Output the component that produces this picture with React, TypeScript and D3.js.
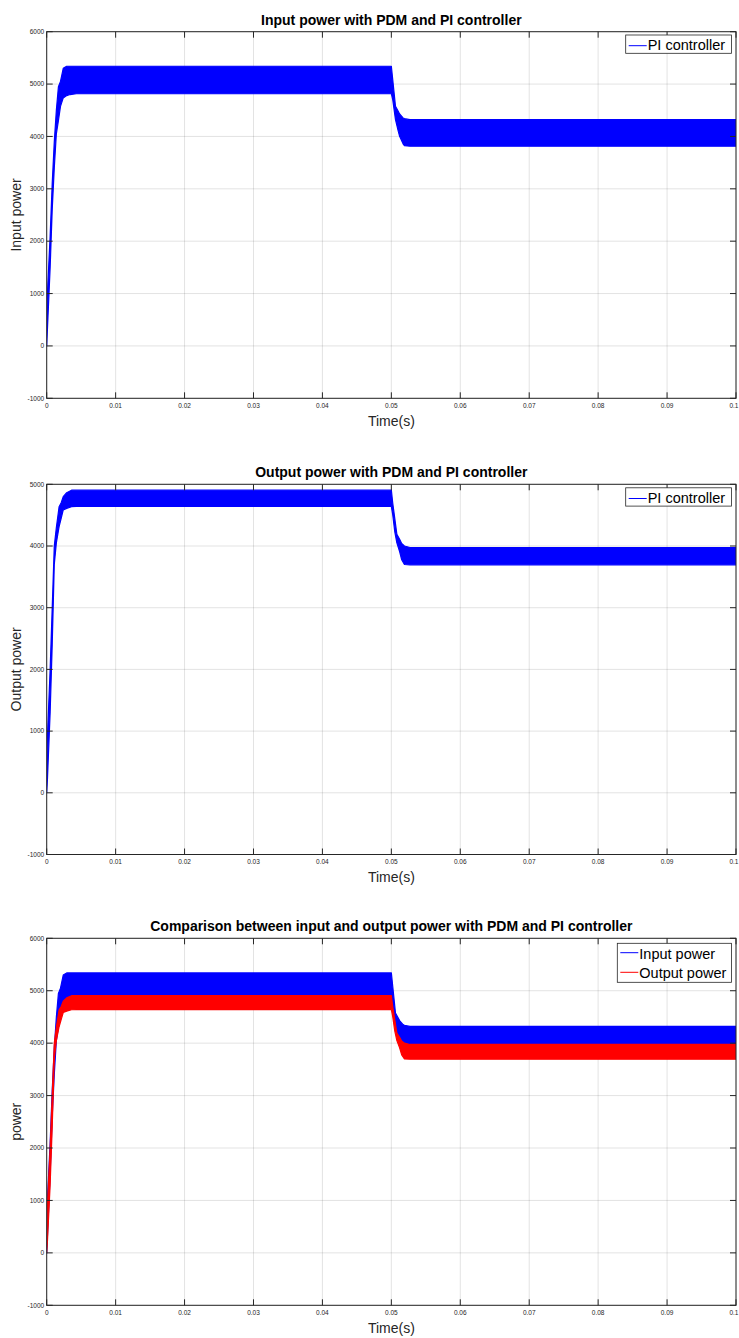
import React from 'react';
import * as d3 from 'd3';

// ---------- data ----------
const timeTicks = [0, 0.01, 0.02, 0.03, 0.04, 0.05, 0.06, 0.07, 0.08, 0.09, 0.1];
const timeTickLabels = ['0', '0.01', '0.02', '0.03', '0.04', '0.05', '0.06', '0.07', '0.08', '0.09', '0.1'];
const powerTicksTo6000 = [-1000, 0, 1000, 2000, 3000, 4000, 5000, 6000];
const powerTicksTo5000 = [-1000, 0, 1000, 2000, 3000, 4000, 5000];

// Input power: envelope (upper / lower edge of the ripple band)
const inputTime = [0, 0.0001, 0.0005, 0.0008, 0.0011, 0.0014, 0.0017, 0.002, 0.0024, 0.0029, 0.0034, 0.0043, 0.006, 0.01, 0.02, 0.03, 0.04, 0.05, 0.0502, 0.0506, 0.051, 0.0512, 0.0517, 0.0519, 0.0527, 0.06, 0.07, 0.08, 0.09, 0.1];
const inputUpper = [0, 1000, 2100, 3100, 3900, 4500, 4950, 5050, 5300, 5340, 5340, 5340, 5340, 5340, 5340, 5340, 5340, 5340, 5086, 4576, 4480, 4430, 4353, 4340, 4320, 4320, 4320, 4320, 4320, 4320];
const inputLower = [0, 300, 1500, 2600, 3400, 4050, 4300, 4575, 4736, 4780, 4800, 4815, 4815, 4815, 4815, 4815, 4815, 4815, 4704, 4321, 4100, 4002, 3860, 3824, 3815, 3815, 3815, 3815, 3815, 3815];

// Output power: envelope
const outputTime = [0, 0.0001, 0.0005, 0.0008, 0.0011, 0.0014, 0.0018, 0.0021, 0.0024, 0.0029, 0.0036, 0.0043, 0.006, 0.01, 0.02, 0.03, 0.04, 0.05, 0.0502, 0.0505, 0.0508, 0.0512, 0.0515, 0.0519, 0.0527, 0.06, 0.07, 0.08, 0.09, 0.1];
const outputUpper = [0, 900, 2000, 3000, 4000, 4300, 4637, 4700, 4800, 4864, 4905, 4905, 4905, 4905, 4905, 4905, 4905, 4905, 4697, 4444, 4190, 4110, 4040, 4000, 3975, 3975, 3975, 3975, 3975, 3975];
const outputLower = [0, 200, 1300, 2400, 3700, 4050, 4313, 4450, 4584, 4610, 4637, 4640, 4640, 4640, 4640, 4640, 4640, 4640, 4507, 4230, 4050, 3910, 3777, 3700, 3695, 3695, 3695, 3695, 3695, 3695];

const FONT = '"Liberation Sans", Arial, Helvetica, sans-serif';
const AXIS = '#262626';

type Series = { name: string; color: string; t: number[]; hi: number[]; lo: number[] };

const inputSeries: Series = { name: 'Input power', color: '#0000ff', t: inputTime, hi: inputUpper, lo: inputLower };
const outputSeries: Series = { name: 'Output power', color: '#ff0000', t: outputTime, hi: outputUpper, lo: outputLower };

interface ChartProps {
  id: string;
  top: number;
  bottom: number;
  yTicks: number[];
  title: string;
  ylabel: string;
  series: Series[];
  legendNames: string[];
  legendLeft: number;
  legendTop: number;
}

const LEFT = 46.7;
const RIGHT = 736;

function Chart(p: ChartProps) {
  const x = d3.scaleLinear().domain([0, 0.1]).range([LEFT, RIGHT]);
  const y = d3
    .scaleLinear()
    .domain([p.yTicks[0], p.yTicks[p.yTicks.length - 1]])
    .range([p.bottom, p.top]);
  const tick = 6;
  const legendRight = RIGHT - 4.5;
  const rowH = 19.6;
  const legendH = p.legendNames.length === 1 ? 18.3 : 39;
  const lastTick = timeTicks.length - 1;
  return (
    <g>
      <defs>
        <clipPath id={p.id}>
          <rect x={LEFT} y={p.top} width={RIGHT - LEFT} height={p.bottom - p.top} />
        </clipPath>
      </defs>
      <rect x={LEFT} y={p.top} width={RIGHT - LEFT} height={p.bottom - p.top} fill="#fff" />
      {/* grid */}
      {timeTicks.map((t, i) => (
        <line key={'gx' + i} x1={x(t)} x2={x(t)} y1={p.top} y2={p.bottom} stroke={AXIS} strokeOpacity={0.13} strokeWidth={1} />
      ))}
      {p.yTicks.map((v, i) => (
        <line key={'gy' + i} x1={LEFT} x2={RIGHT} y1={y(v)} y2={y(v)} stroke={AXIS} strokeOpacity={0.13} strokeWidth={1} />
      ))}
      {/* data */}
      <g clipPath={`url(#${p.id})`}>
        {p.series.map((s, si) => {
          const idx = d3.range(s.t.length);
          const area = d3
            .area<number>()
            .x((i) => x(s.t[i]))
            .y0((i) => y(s.lo[i]))
            .y1((i) => y(s.hi[i]));
          return (
            <path key={'s' + si} d={area(idx) || ''} fill={s.color} stroke={s.color} strokeWidth={1.2} strokeLinejoin="round" />
          );
        })}
      </g>
      {/* box */}
      <rect x={LEFT} y={p.top} width={RIGHT - LEFT} height={p.bottom - p.top} fill="none" stroke={AXIS} strokeWidth={1} />
      {/* ticks */}
      {timeTicks.map((t, i) => (
        <g key={'tx' + i}>
          <line x1={x(t)} x2={x(t)} y1={p.bottom} y2={p.bottom - tick} stroke={AXIS} strokeWidth={1} />
          <line x1={x(t)} x2={x(t)} y1={p.top} y2={p.top + tick} stroke={AXIS} strokeWidth={1} />
          <text
            x={i === lastTick ? 738.5 : x(t)}
            y={p.bottom + 9.7}
            fontSize={6.5}
            fill={AXIS}
            textAnchor={i === lastTick ? 'end' : 'middle'}
            fontFamily={FONT}
          >
            {timeTickLabels[i]}
          </text>
        </g>
      ))}
      {p.yTicks.map((v, i) => (
        <g key={'ty' + i}>
          <line x1={LEFT} x2={LEFT + tick} y1={y(v)} y2={y(v)} stroke={AXIS} strokeWidth={1} />
          <line x1={RIGHT} x2={RIGHT - tick} y1={y(v)} y2={y(v)} stroke={AXIS} strokeWidth={1} />
          <text x={LEFT - 2.5} y={y(v) + 2.3} fontSize={6.5} fill={AXIS} textAnchor="end" fontFamily={FONT}>
            {String(v)}
          </text>
        </g>
      ))}
      {/* labels */}
      <text x={(LEFT + RIGHT) / 2} y={p.top - 7} fontSize={14} fontWeight="bold" textAnchor="middle" fontFamily={FONT} fill="#000">
        {p.title}
      </text>
      <text x={(LEFT + RIGHT) / 2} y={p.bottom + 27.5} fontSize={14} textAnchor="middle" fontFamily={FONT} fill={AXIS}>
        Time(s)
      </text>
      <text
        transform={`translate(21,${(p.top + p.bottom) / 2}) rotate(-90)`}
        fontSize={14}
        textAnchor="middle"
        fontFamily={FONT}
        fill={AXIS}
      >
        {p.ylabel}
      </text>
      {/* legend */}
      <rect x={p.legendLeft} y={p.legendTop} width={legendRight - p.legendLeft} height={legendH} fill="#fff" stroke={AXIS} strokeWidth={0.8} />
      {p.legendNames.map((n, i) => (
        <g key={'lg' + i}>
          <line
            x1={p.legendLeft + 3}
            x2={p.legendLeft + 21}
            y1={p.legendTop + (p.legendNames.length === 1 ? 10.7 : 9.4) + i * rowH}
            y2={p.legendTop + (p.legendNames.length === 1 ? 10.7 : 9.4) + i * rowH}
            stroke={p.series[i].color}
            strokeWidth={1}
          />
          <text
            x={p.legendLeft + 22}
            y={p.legendTop + 15.3 + i * rowH}
            fontSize={14.5}
            fontFamily={FONT}
            fill="#000"
          >
            {n}
          </text>
        </g>
      ))}
    </g>
  );
}

export default function App() {
  return (
    <svg width={739} height={1338} style={{ position: 'absolute', left: 0, top: 0, background: '#fff' }}>
      <rect width={739} height={1338} fill="#fff" />
      <Chart
        id="c1"
        top={31.7}
        bottom={398.3}
        yTicks={powerTicksTo6000}
        title="Input power with PDM and PI controller"
        ylabel="Input power"
        series={[inputSeries]}
        legendNames={['PI controller']}
        legendLeft={625.7}
        legendTop={35}
      />
      <Chart
        id="c2"
        top={484.3}
        bottom={854.5}
        yTicks={powerTicksTo5000}
        title="Output power with PDM and PI controller"
        ylabel="Output power"
        series={[{ ...outputSeries, color: '#0000ff' }]}
        legendNames={['PI controller']}
        legendLeft={625.7}
        legendTop={487.8}
      />
      <Chart
        id="c3"
        top={938.3}
        bottom={1305.3}
        yTicks={powerTicksTo6000}
        title="Comparison between input and output power with PDM and PI controller"
        ylabel="power"
        series={[inputSeries, outputSeries]}
        legendNames={['Input power', 'Output power']}
        legendLeft={617.3}
        legendTop={943.3}
      />
    </svg>
  );
}
